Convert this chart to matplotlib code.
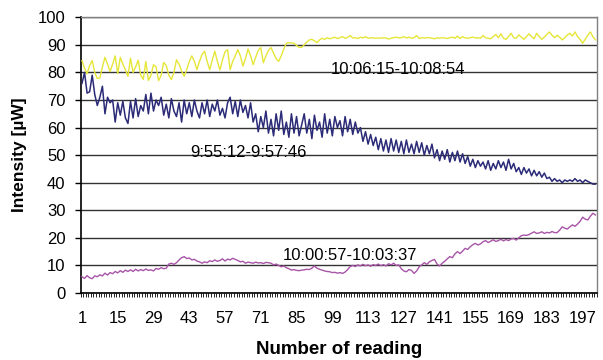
import matplotlib
matplotlib.use("Agg")
import matplotlib.pyplot as plt
from matplotlib.ticker import FixedLocator, NullFormatter

# ---------------- data ----------------
readings = list(range(1, 203))
xtick_labels = [1, 15, 29, 43, 57, 71, 85, 99, 113, 127, 141, 155, 169, 183, 197]
yticks = [0, 10, 20, 30, 40, 50, 60, 70, 80, 90, 100]

yellow = [
    84.3, 81.5, 79.5, 82.5, 84.3, 80.0, 77.8, 78.0, 82.0, 85.5,
    83.0, 80.3, 83.0, 86.0, 79.6, 85.5, 83.0, 81.0, 78.6, 85.2,
    80.0, 82.0, 84.4, 79.0, 77.5, 84.0, 77.1, 79.0, 82.8, 82.0,
    77.0, 79.0, 83.6, 82.5, 79.0, 77.4, 80.0, 84.6, 83.0, 80.5,
    78.6, 81.0, 84.0, 86.0, 84.0, 81.0, 84.0, 86.5, 87.7, 84.0,
    81.0, 84.5, 87.7, 84.0, 80.9, 84.5, 87.5, 88.3, 81.0, 84.0,
    86.0, 88.3, 86.0, 82.3, 85.0, 88.5, 86.0, 82.8, 85.5, 88.0,
    89.0, 83.5, 86.0, 88.0, 89.0, 87.0, 85.0, 84.0, 86.0, 88.5,
    90.6, 90.8, 90.7, 90.6, 89.8, 89.1, 89.1, 90.0, 91.0, 91.8,
    92.0, 91.5, 90.8, 91.8, 92.4, 92.0, 92.6, 92.2, 92.5, 92.8,
    92.3, 92.6, 93.0, 92.4, 92.7, 93.4, 92.5, 92.6, 92.3, 92.8,
    92.5, 93.0, 92.4, 92.6, 92.5, 92.4, 92.5, 92.4, 92.6, 92.5,
    92.1, 92.4, 92.6, 92.8, 92.5, 92.6, 93.0, 92.5, 92.8, 92.4,
    92.6, 93.4, 92.3, 92.6, 92.5, 92.6, 92.6, 92.4, 92.2, 92.6,
    92.4, 92.6, 92.5, 92.3, 92.6, 92.8, 92.4, 93.2, 92.3, 93.0,
    92.5, 92.4, 92.6, 92.8, 92.5, 92.6, 92.4, 93.4, 92.6, 92.4,
    92.2, 93.0, 93.8, 92.6, 94.0, 92.4, 92.0, 93.0, 94.2, 92.6,
    92.4, 93.6, 92.8, 92.0, 93.0, 94.0, 93.0, 92.2, 94.2, 93.0,
    92.0, 92.8, 93.8, 94.7, 93.5, 92.6, 93.5, 92.8, 91.8, 92.6,
    93.6, 94.2, 93.2, 94.7, 93.0, 92.0, 90.6, 92.0, 93.5, 94.7,
    93.0, 91.8,
]

navy = [
    76.0, 80.0, 72.5, 73.0, 79.0, 72.0, 68.0, 71.0, 75.0, 65.0,
    71.0, 69.0, 70.0, 62.0, 69.0, 64.5, 69.5, 63.5, 61.5, 69.5,
    63.5, 70.5, 64.0, 68.0, 66.0, 72.0, 65.0, 72.5, 66.0, 70.0,
    68.0, 71.0, 64.5, 68.5, 63.5, 70.5, 66.0, 64.0, 69.0, 62.0,
    70.0, 65.0, 69.0, 64.0, 70.0, 66.0, 63.5, 69.0, 65.0, 70.0,
    64.0, 68.5, 66.0, 70.0, 64.5, 67.0, 63.5, 69.0, 71.0, 65.0,
    69.5, 64.0, 70.0, 65.5, 68.0, 63.5, 69.0, 62.0, 65.0, 58.5,
    64.0, 60.0, 66.0, 58.0, 63.0, 57.0, 65.0, 59.0, 66.0, 57.5,
    62.0, 56.5, 65.0, 58.0, 64.0, 57.0, 61.0, 65.0, 58.0, 63.0,
    56.0, 64.5, 59.0, 62.0, 56.5, 65.0, 58.0, 63.0, 57.0, 64.0,
    60.0, 62.5, 57.0, 64.0, 58.5, 63.0, 57.5, 62.0, 58.0, 60.0,
    55.0, 58.5, 54.0, 57.5, 53.5, 56.5, 52.0, 56.0, 51.5, 55.5,
    51.0, 56.0, 51.5, 55.5, 51.0, 55.0, 50.5, 55.5, 51.0, 54.0,
    50.5, 55.0, 51.0, 54.5, 50.0, 53.5, 50.5, 54.0, 49.0, 52.0,
    48.0, 51.5, 48.5, 52.0, 47.5, 51.0, 48.0, 51.5, 47.5, 50.5,
    47.0, 49.5, 46.0, 48.5, 45.5, 48.0, 46.0, 47.5, 45.0, 48.0,
    44.5, 47.0, 45.0, 48.0, 45.5, 47.5, 44.5, 48.5, 45.0, 47.0,
    44.0, 45.5, 43.0, 45.5, 43.5, 45.0, 42.5, 44.5, 42.5, 44.0,
    42.0, 43.5, 41.5, 42.0, 40.5, 41.5, 40.5, 41.0, 40.0, 41.0,
    40.5, 41.0, 40.5, 41.5, 40.5, 41.0, 40.0, 41.0, 40.5, 40.0,
    39.5, 39.5,
]

purple = [
    5.9, 5.3, 6.3, 5.5, 5.2, 6.2, 5.9, 6.6, 6.2, 7.2,
    6.5, 7.4, 7.0, 7.8, 7.3, 8.1, 7.5, 8.3, 7.8, 8.4,
    7.8, 8.6, 8.0, 8.5, 8.1, 8.7, 8.2, 8.4, 8.0, 8.9,
    8.6, 9.2, 8.8, 9.0, 10.5, 10.8, 10.4, 11.0, 12.0, 12.8,
    13.2, 12.5, 12.7, 12.0, 12.2, 11.6, 11.3, 10.8, 11.3, 11.0,
    11.7, 11.4, 12.0, 11.5, 11.8, 12.4, 11.6, 12.3, 12.0, 12.6,
    12.2, 11.8, 11.3, 11.5, 10.8, 11.2, 11.0, 10.8, 11.2, 10.9,
    11.0, 10.7, 11.1, 11.0, 10.8, 10.2, 10.5, 10.0, 9.5, 9.8,
    9.2, 8.8, 8.3, 8.5, 8.2, 8.1, 8.3, 8.4, 8.6, 8.5,
    9.0, 9.8, 9.0, 8.6, 8.3, 8.0, 7.8, 7.7, 7.4, 7.5,
    7.2, 7.4, 7.1, 7.6, 8.5, 9.6, 10.0, 9.6, 10.2, 9.8,
    10.4, 9.9, 10.2, 9.7, 10.3, 10.0, 10.5, 9.9, 10.3, 9.8,
    10.6, 10.2, 10.8, 10.0, 10.2, 8.8, 8.0, 7.7, 8.5, 8.2,
    7.1, 8.0, 9.5, 10.2, 11.0, 10.4, 11.3, 11.8, 12.2, 10.5,
    9.8, 10.8, 11.5, 12.4, 13.2, 12.8, 14.2, 15.0, 14.3, 15.2,
    16.2, 15.8, 16.8, 17.5, 18.0, 17.4, 17.8, 18.6, 19.0, 18.3,
    18.8, 19.3, 18.7, 19.0, 19.5, 18.9, 19.4, 19.0, 19.6, 19.8,
    19.2, 20.0, 20.8, 21.0, 20.9, 21.2, 21.7, 22.2, 21.6, 21.8,
    22.2, 21.6, 22.0, 21.8, 22.3, 21.9, 21.9, 22.8, 24.0, 23.5,
    23.2, 24.0, 24.7, 24.2, 25.0, 26.0, 27.5, 26.8, 26.5, 27.8,
    28.9, 28.3,
]

labels = ["10:06:15-10:08:54", "9:55:12-9:57:46", "10:00:57-10:03:37"]
label_pos = [(124.7, 80.9), (66.0, 50.8), (106.1, 13.6)]

# ---------------- plot ----------------
plt.rcParams['font.family'] = ['Liberation Sans', 'DejaVu Sans']

fig = plt.figure(figsize=(6.03, 3.6), dpi=100)
W, H = 603, 360
left, right, top, bottom = 80.7, 596.7, 17.3, 293.0
ax = fig.add_axes([left / W, 1 - bottom / H, (right - left) / W, (bottom - top) / H])

ax.plot(readings, yellow, color='#E6E63A', lw=1.0, zorder=3)
ax.plot(readings, navy, color='#2B2B78', lw=1.1, zorder=3)
ax.plot(readings, purple, color='#A855A8', lw=1.0, zorder=3)

for txt, (x, y) in zip(labels, label_pos):
    ax.text(x, y, txt, fontsize=12, ha='center', va='center', color='black', zorder=4)

ax.set_xlim(0.5, len(readings) + 0.5)
ax.set_ylim(0, 100)

ax.set_yticks(yticks)
ax.yaxis.grid(True, color='#333333', lw=1.0, zorder=1)
ax.set_axisbelow(True)

ax.xaxis.set_major_locator(FixedLocator(xtick_labels))
ax.set_xticklabels([str(v) for v in xtick_labels])
ax.xaxis.set_minor_locator(FixedLocator([i + 0.5 for i in range(0, len(readings) + 1)]))
ax.xaxis.set_minor_formatter(NullFormatter())
ax.tick_params(axis='x', which='major', length=0, pad=13, labelsize=12)
ax.tick_params(axis='x', which='minor', length=3, width=0.6, direction='out')
ax.tick_params(axis='y', which='major', length=4, width=1, pad=7, labelsize=12)

for s in ['left', 'bottom']:
    ax.spines[s].set_color('black')
    ax.spines[s].set_linewidth(1.2)
for s in ['top', 'right']:
    ax.spines[s].set_color('#808080')
    ax.spines[s].set_linewidth(1.0)

ax.set_xlabel('Number of reading', fontsize=13.5, fontweight='bold', labelpad=11)
ax.set_ylabel('Intensity [µW]', fontsize=12.5, fontweight='bold', labelpad=8)

fig.savefig('out.png', dpi=100)
